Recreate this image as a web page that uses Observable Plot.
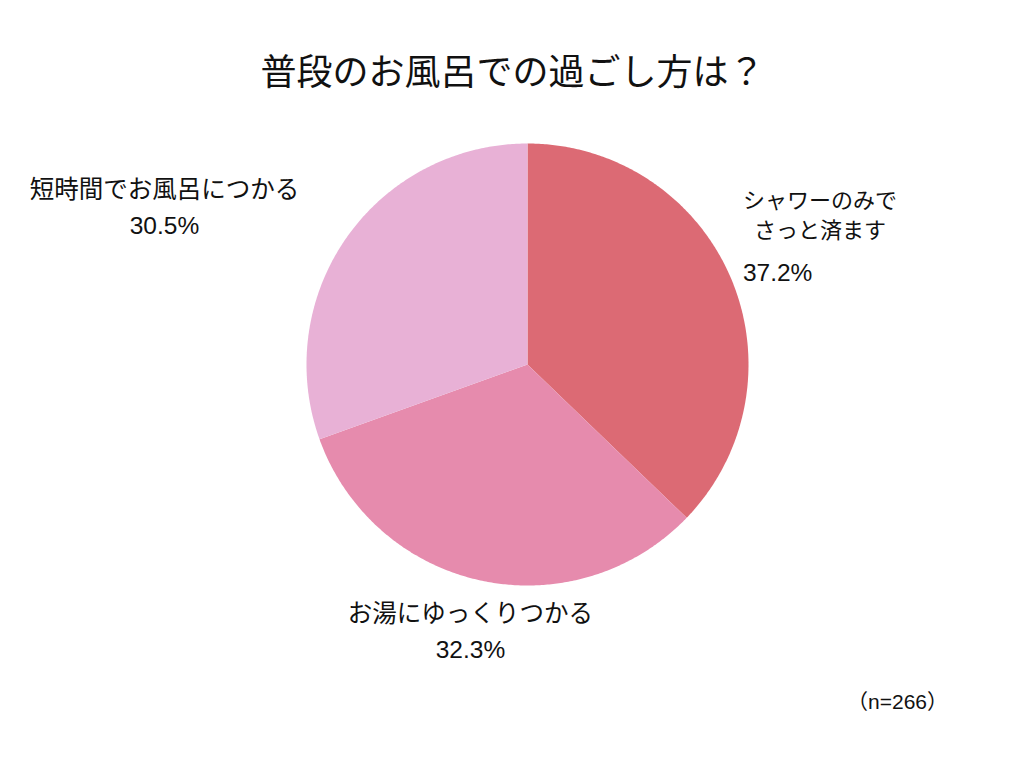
<!DOCTYPE html>
<html>
<head>
<meta charset="utf-8">
<script src="https://cdn.jsdelivr.net/npm/d3@7"></script>
<script src="https://cdn.jsdelivr.net/npm/@observablehq/plot@0.6"></script>
<style>
  html, body { margin: 0; padding: 0; background: #fff; }
  #chart svg { display: block; }
</style>
</head>
<body>
<div id="chart"></div>
<script>
const title = "普段のお風呂での過ごし方は？";
const caption = "（n=266）";
const categories = ["シャワーのみで\nさっと済ます", "お湯にゆっくりつかる", "短時間でお風呂につかる"];
const values = [37.2, 32.3, 30.5];
const valueLabels = ["37.2%", "32.3%", "30.5%"];
const colors = ["#DC6A74", "#E68BAD", "#E8B1D6"];

const W = 1024, H = 768;
const cx = 527, cy = 364, R = 221;

// slices (clockwise from 12 o'clock)
const total = d3.sum(values);
let acc = 0;
const slices = values.map((v, i) => {
  const a0 = acc / total * 2 * Math.PI;
  acc += v;
  const a1 = acc / total * 2 * Math.PI;
  return {key: categories[i], pct: valueLabels[i], a0, a1, mid: (a0 + a1) / 2, i};
});

// polygon points in unit-radius coordinates
const pts = [];
for (const s of slices) {
  pts.push({key: s.key, x: 0, y: 0});
  const n = Math.max(2, Math.ceil((s.a1 - s.a0) / (Math.PI / 360)));
  for (let k = 0; k <= n; k++) {
    const a = s.a0 + (s.a1 - s.a0) * k / n;
    pts.push({key: s.key, x: Math.sin(a), y: Math.cos(a)});
  }
  pts.push({key: s.key, x: 0, y: 0});
}

const k = 1.3;
const anchors = slices.map(s => ({...s, x: k * Math.sin(s.mid), y: k * Math.cos(s.mid)}));

const font = "'Liberation Sans', 'Noto Sans CJK JP', sans-serif";

const chart = Plot.plot({
  width: W,
  height: H,
  margin: 0,
  x: {domain: [-cx / R, (W - cx) / R], axis: null},
  y: {domain: [-(H - cy) / R, cy / R], axis: null},
  color: {domain: categories, range: colors},
  style: {fontFamily: font, background: "#fff"},
  marks: [
    Plot.line(pts, {x: "x", y: "y", z: "key", fill: "key", stroke: "none", curve: "linear"}),
    // shower label
    Plot.text(anchors.filter(d => d.i === 0), {x: "x", y: "y", text: "key", dx: 28, dy: -39, fontSize: 22, lineHeight: 1.4, fill: "#111"}),
    Plot.text(anchors.filter(d => d.i === 0), {x: "x", y: "y", text: "pct", dx: -49, dy: 21, textAnchor: "start", fontSize: 24.5, fill: "#111"}),
    // bath label
    Plot.text(anchors.filter(d => d.i === 1), {x: "x", y: "y", text: d => d.key + "\n" + d.pct, dx: 3, dy: -17, fontSize: 24.5, lineHeight: 1.47, fill: "#111"}),
    // short soak label
    Plot.text(anchors.filter(d => d.i === 2), {x: "x", y: "y", text: d => d.key + "\n" + d.pct, dx: -128, dy: 5, fontSize: 24.5, lineHeight: 1.47, fill: "#111"}),
    // title
    Plot.text([title], {frameAnchor: "top", dy: 73, lineAnchor: "middle", fontSize: 36, fill: "#111"}),
    // caption
    Plot.text([caption], {frameAnchor: "bottom-right", dx: -127, dy: -66, textAnchor: "middle", lineAnchor: "middle", fontSize: 21, fill: "#111"})
  ]
});
document.getElementById("chart").appendChild(chart);
</script>
</body>
</html>
